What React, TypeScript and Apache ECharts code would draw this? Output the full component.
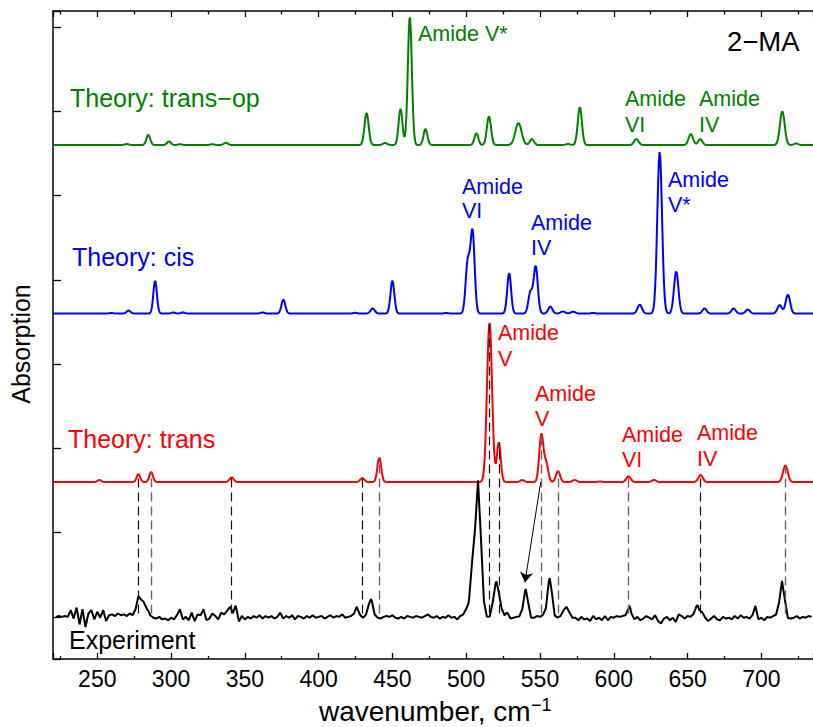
import React, { useEffect, useRef } from "react";
import * as echarts from "echarts";

const X_MIN = 220;
const X_MAX = 735;
const Y_MIN = -0.5;
const Y_MAX = 7.19;
const X_TICK = 50;
const Y_TICK = 1;

const BASE_EXPERIMENT = 0;
const BASE_TRANS = 1.6;
const BASE_CIS = 3.6;
const BASE_TRANS_OP = 5.6;

type Peak = [number, number, number]; // [centre, height, width]

const transOpPeaks: Peak[] = [
  [270.0, 0.012, 1.4], [284.6, 0.12, 1.3], [298.6, 0.042, 1.3], [306.0, 0.008, 1.4],
  [328.0, 0.008, 1.4], [337.2, 0.026, 1.4], [432.5, 0.38, 1.4], [445.0, 0.024, 1.4],
  [455.5, 0.43, 1.3], [461.8, 1.53, 1.35], [472.4, 0.19, 1.3], [506.9, 0.14, 1.3],
  [515.4, 0.34, 1.4], [535.4, 0.26, 2.1], [544.5, 0.07, 1.4], [569.0, 0.012, 1.4],
  [577.0, 0.45, 1.4], [615.3, 0.07, 1.5], [652.2, 0.13, 1.5], [658.6, 0.07, 1.4],
  [714.2, 0.40, 1.6], [723.6, 0.018, 1.4],
];

const cisPeaks: Peak[] = [
  [259.5, 0.006, 1.4], [271.2, 0.036, 1.3], [289.2, 0.39, 1.2], [301.4, 0.012, 1.3],
  [308.0, 0.012, 1.3], [361.9, 0.012, 1.4], [376.1, 0.165, 1.3], [424.6, 0.008, 1.4],
  [436.6, 0.06, 1.4], [450.0, 0.39, 1.3], [486.4, 0.006, 1.4], [501.0, 0.6, 1.4],
  [504.3, 0.97, 1.4], [529.1, 0.48, 1.3], [543.5, 0.25, 1.4], [547.1, 0.56, 1.4],
  [557.0, 0.083, 1.4], [565.5, 0.024, 1.5], [572.5, 0.022, 1.5], [586.0, 0.006, 1.5],
  [617.6, 0.105, 1.5], [631.1, 1.92, 1.6], [642.3, 0.5, 1.5], [661.5, 0.06, 1.4],
  [681.2, 0.06, 1.4], [690.8, 0.047, 1.4], [712.4, 0.1, 1.5], [718.0, 0.225, 1.5],
];

const transPeaks: Peak[] = [
  [251.4, 0.024, 1.3], [277.9, 0.095, 1.2], [286.5, 0.12, 1.2], [341.0, 0.055, 1.4],
  [429.6, 0.047, 1.4], [441.1, 0.29, 1.3], [515.8, 1.9, 1.7], [522.1, 0.47, 1.3],
  [538.0, 0.024, 1.4], [550.9, 0.565, 1.4], [554.2, 0.22, 1.4], [562.2, 0.13, 1.4],
  [573.5, 0.024, 1.5], [590.5, 0.006, 1.5], [610.0, 0.066, 1.5], [627.2, 0.024, 1.5],
  [658.8, 0.083, 1.5], [716.3, 0.197, 1.6],
];

const experimentPeaks: Peak[] = [
  [277.9, 0.22, 1.2], [281.2, 0.17, 1.3], [284.5, 0.05, 1.0], [340.0, 0.1, 1.0],
  [343.6, 0.11, 1.0], [425.7, 0.08, 1.0], [435.4, 0.21, 1.4], [501.5, 0.1, 1.6],
  [504.0, 0.45, 1.2], [508.0, 1.62, 1.9], [520.5, 0.42, 1.9], [527.5, 0.04, 1.0],
  [540.4, 0.33, 1.5], [556.6, 0.46, 1.5], [567.9, 0.12, 1.8], [610.8, 0.12, 1.0],
  [656.7, 0.11, 1.3], [660.2, 0.05, 1.0], [696.0, 0.14, 0.5], [714.2, 0.41, 1.5],
];

// experimental noise, hundredths of a unit, every 2 cm-1 from 222
const experimentNoiseStart = 222;
const experimentNoiseStep = 2;
const experimentNoise = [
  0, 1, 0, 1, 0, 8, -2, 11, -9, 9,
  -12, 4, 8, -3, 6, -1, 8, -5, 2, 3,
  1, 4, 2, 3, 1, 4, 2, 3, 2, 4,
  1, 2, 0, -1, -2, 0, -3, -2, -4, -1,
  -3, 2, 9, -3, 0, -4, 5, -5, 3, 2,
  9, -4, -2, 4, 1, -3, 5, 3, 6, 2,
  0, 2, -6, 1, -3, 0, -2, 1, -1, 2,
  -2, 1, -1, 1, -2, 0, 5, -2, 1, -1,
  2, -3, 1, 0, -2, 1, -1, 2, -1, 0,
  1, -2, 0, 2, -1, 1, 0, 3, -1, 0,
  1, 2, 4, 2, -1, 1, 2, 0, -1, -1,
  -2, 0, 1, 0, 2, -1, -2, 0, -2, 1,
  0, -1, 1, 0, -1, 1, 3, 0, -1, 1,
  -2, 0, -1, 2, -1, 0, -3, 1, 2, 3,
  0, 0, 0, 0, 0, 1, -1, -2, 0, 0,
  -1, 2, 0, 1, -2, -1, 0, 0, 0, 0,
  -2, -3, -1, 1, 0, 2, 0, 0, 0, -2,
  -1, 0, 1, 0, -1, -2, -1, -4, 0, -3,
  -2, -5, 1, -3, -1, -4, 1, -4, 0, -1,
  1, 0, 1, 2, 1, -2, -3, 0, -4, -2,
  1, -1, -3, 2, -5, -8, -2, 0, -4, -1,
  -6, 3, 1, -2, 1, 0, 2, 3, 1, 0,
  -2, -5, -2, 1, -3, -4, 0, -2, -1, -3,
  1, -2, 2, -1, 0, -2, 2, -1, -3, -1,
  -4, 0, -1, 1, 2, 3, 2, 0, -3, -2,
  -1, 1, -2, 0, -1, 1, 0,
];

const assignmentDark = [277.9, 341.0, 429.6, 515.8, 522.1, 658.8];
const assignmentGray = [286.5, 441.1, 550.9, 562.2, 610.0, 716.3];
const assignmentFloor = 0.04;

const arrowFrom: [number, number] = [550.5, 1.6];
const arrowTo: [number, number] = [539.8, 0.41];

const FONT = '"Liberation Sans", Arial, Helvetica, sans-serif';

function peakSum(peaks: Peak[], x: number): number {
  let s = 0;
  for (const [c, h, w] of peaks) s += h * Math.exp(-((x - c) * (x - c)) / (2 * w * w));
  return s;
}

function theoryCurve(peaks: Peak[], base: number): [number, number][] {
  const pts: [number, number][] = [];
  const n = Math.round((X_MAX - X_MIN) / 0.5);
  for (let i = 0; i <= n; i++) {
    const x = X_MIN + i * 0.5;
    pts.push([x, base + peakSum(peaks, x)]);
  }
  return pts;
}

function experimentCurve(): [number, number][] {
  const pts: [number, number][] = [];
  experimentNoise.forEach((n, i) => {
    const x = experimentNoiseStart + i * experimentNoiseStep;
    pts.push([x, BASE_EXPERIMENT + n / 100 + peakSum(experimentPeaks, x)]);
  });
  experimentPeaks.forEach(([c]) => {
    let i = Math.round((c - experimentNoiseStart) / experimentNoiseStep);
    i = Math.max(0, Math.min(experimentNoise.length - 1, i));
    pts.push([c, BASE_EXPERIMENT + experimentNoise[i] / 100 + peakSum(experimentPeaks, c)]);
  });
  pts.sort((a, b) => a[0] - b[0]);
  return pts;
}

function txt(text: string, x: number, baseline: number, size: number, color: string) {
  return {
    type: "text",
    x,
    y: baseline - 0.347 * size,
    silent: true,
    style: { text, fill: color, fontSize: size, fontFamily: FONT, align: "left", verticalAlign: "middle" },
  };
}

const GREEN = "#008000";
const BLUE = "#0000ff";
const RED = "#ff0000";

export default function App() {
  const ref = useRef<HTMLDivElement>(null);
  useEffect(() => {
    if (!ref.current) return;
    const chart = echarts.init(ref.current, undefined, { renderer: "svg" });

    const tickLine = { color: "#000", width: 1.3 };
    const xCommon = {
      type: "value",
      min: X_MIN,
      max: X_MAX,
      minInterval: X_TICK,
      maxInterval: X_TICK,
      splitLine: { show: false },
      minorSplitLine: { show: false },
    };

    const redTop = (x: number) => BASE_TRANS + peakSum(transPeaks, x);
    const dashed = (xs: number[]) =>
      xs.map((x) => [{ coord: [x, assignmentFloor] }, { coord: [x, redTop(x)] }]);

    const LBL = 25;
    const AM = 21.5;

    const option: any = {
      animation: false,
      grid: { left: 53, top: 11, width: 760, height: 648, containLabel: false },
      xAxis: [
        {
          ...xCommon,
          position: "bottom",
          axisLine: { show: true, onZero: false, lineStyle: { color: "#000", width: 1.5 } },
          axisTick: { show: true, inside: true, length: 6, lineStyle: tickLine },
          minorTick: { show: true, splitNumber: 2, length: 3, lineStyle: tickLine },
          axisLabel: {
            show: true,
            margin: 8,
            fontSize: 23,
            color: "#000",
            fontFamily: FONT,
            showMinLabel: false,
            showMaxLabel: false,
            formatter: (v: number) => (v % X_TICK === 0 ? String(v) : ""),
          },
        },
        {
          ...xCommon,
          position: "top",
          axisLine: { show: true, onZero: false, lineStyle: { color: "#000", width: 1.5 } },
          axisTick: { show: true, inside: true, length: 6, lineStyle: tickLine },
          minorTick: { show: true, splitNumber: 2, length: 3.5, lineStyle: tickLine },
          axisLabel: { show: false },
        },
      ],
      yAxis: {
        type: "value",
        min: Y_MIN,
        max: Y_MAX,
        minInterval: Y_TICK,
        maxInterval: Y_TICK,
        axisLine: { show: true, onZero: false, lineStyle: { color: "#000", width: 1.5 } },
        axisTick: { show: true, inside: true, length: 8, lineStyle: tickLine },
        axisLabel: { show: false },
        splitLine: { show: false },
      },
      series: [
        {
          type: "line",
          data: [],
          silent: true,
          z: 1,
          markLine: {
            silent: true,
            symbol: ["none", "none"],
            label: { show: false },
            emphasis: { disabled: true },
            lineStyle: { type: [9, 5], color: "#111", width: 1.2 },
            data: dashed(assignmentDark),
          },
        },
        {
          type: "line",
          data: [],
          silent: true,
          z: 1,
          markLine: {
            silent: true,
            symbol: ["none", "none"],
            label: { show: false },
            emphasis: { disabled: true },
            lineStyle: { type: [9, 5], color: "#666", width: 1.4 },
            data: dashed(assignmentGray),
          },
        },
        {
          type: "line",
          data: [],
          silent: true,
          z: 6,
          markLine: {
            silent: true,
            symbol: ["none", "arrow"],
            symbolSize: 10,
            label: { show: false },
            emphasis: { disabled: true },
            itemStyle: { color: "#000" },
            lineStyle: { type: "solid", color: "#000", width: 1 },
            data: [[{ coord: arrowFrom }, { coord: arrowTo }]],
          },
        },
        {
          name: "trans-op",
          type: "line",
          data: theoryCurve(transOpPeaks, BASE_TRANS_OP),
          showSymbol: false,
          silent: true,
          z: 3,
          lineStyle: { color: GREEN, width: 2 },
        },
        {
          name: "cis",
          type: "line",
          data: theoryCurve(cisPeaks, BASE_CIS),
          showSymbol: false,
          silent: true,
          z: 3,
          lineStyle: { color: BLUE, width: 2 },
        },
        {
          name: "trans",
          type: "line",
          data: theoryCurve(transPeaks, BASE_TRANS),
          showSymbol: false,
          silent: true,
          z: 3,
          lineStyle: { color: RED, width: 2 },
        },
        {
          name: "Experiment",
          type: "line",
          data: experimentCurve(),
          showSymbol: false,
          silent: true,
          z: 4,
          lineStyle: { color: "#000", width: 2 },
        },
      ],
      graphic: [
        txt("Theory: trans\u2212op", 70, 106.7, LBL, GREEN),
        txt("Theory: cis", 72, 265.7, LBL, BLUE),
        txt("Theory: trans", 68, 447.7, LBL, RED),
        txt("Experiment", 69, 648.3, LBL, "#000"),
        txt("2\u2212MA", 727, 50.7, 27.5, "#000"),
        txt("Amide V*", 418, 41.7, AM, GREEN),
        txt("Amide", 625, 106.7, AM, GREEN),
        txt("VI", 625, 132.7, AM, GREEN),
        txt("Amide", 699, 106.7, AM, GREEN),
        txt("IV", 699, 132.7, AM, GREEN),
        txt("Amide", 462, 194, AM, BLUE),
        txt("VI", 462, 218.5, AM, BLUE),
        txt("Amide", 531, 230, AM, BLUE),
        txt("IV", 531, 255, AM, BLUE),
        txt("Amide", 668, 187.7, AM, BLUE),
        txt("V*", 668, 212.7, AM, BLUE),
        txt("Amide", 498, 340.7, AM, RED),
        txt("V", 498, 366, AM, RED),
        txt("Amide", 535, 401, AM, RED),
        txt("V", 535, 426, AM, RED),
        txt("Amide", 622, 442.3, AM, RED),
        txt("VI", 622, 467.7, AM, RED),
        txt("Amide", 697, 440, AM, RED),
        txt("IV", 697, 466.7, AM, RED),
        txt("wavenumber, cm", 319, 721.7, 28, "#000"),
        txt("\u22121", 531, 711, 18, "#000"),
        {
          type: "text",
          x: 20.6,
          y: 344,
          rotation: Math.PI / 2,
          silent: true,
          style: { text: "Absorption", fill: "#000", fontSize: 25, fontFamily: FONT, align: "center", verticalAlign: "middle" },
        },
      ],
    };

    chart.setOption(option);
    return () => chart.dispose();
  }, []);

  return <div ref={ref} style={{ position: "absolute", left: 0, top: 0, width: 813, height: 727 }} />;
}
